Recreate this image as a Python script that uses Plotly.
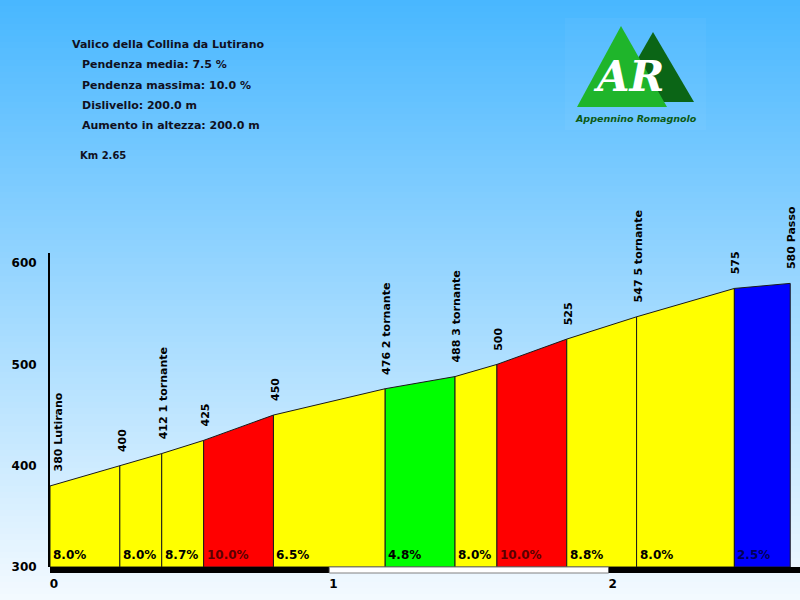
import plotly.graph_objects as go

# ---- data ----
km = [0.0, 0.25, 0.40, 0.55, 0.80, 1.20, 1.45, 1.60, 1.85, 2.10, 2.45, 2.65]
elev = [380, 400, 412, 425, 450, 476, 488, 500, 525, 547, 575, 580]
point_names = ["Lutirano", "", "1 tornante", "", "", "2 tornante", "3 tornante", "", "", "5 tornante", "", "Passo"]
grades = [8.0, 8.0, 8.7, 10.0, 6.5, 4.8, 8.0, 10.0, 8.8, 8.0, 2.5]
y_ticks = [300, 400, 500, 600]
x_ticks = [0, 1, 2]
header_lines = ["Pendenza media: 7.5 %", "Pendenza massima: 10.0 %",
                "Dislivello: 200.0 m", "Aumento in altezza: 200.0 m"]
title_text = "Valico della Collina da Lutirano"
length_text = "Km 2.65"

W, H = 800, 600
ML, MR, MT, MB = 50, 0, 253, 33
PW, PH = W - ML - MR, H - MT - MB
X_MAX = 2.685
Y_MIN, Y_MAX = 300, 610
FONT = "DejaVu Sans"


def px(xp):
    return (xp - ML) / PW


def py(yp):
    return (H - MB - yp) / PH


def seg_color(g):
    if g < 3:
        return "#0000FF"
    if g < 5:
        return "#00FF00"
    if g < 9.5:
        return "#FFFF00"
    return "#FF0000"


def text_color(g):
    c = seg_color(g)
    return {"#FF0000": "#5a0000", "#0000FF": "#00005a"}.get(c, "#000000")


fig = go.Figure()

# profile segments
for i, g in enumerate(grades):
    x0, x1 = km[i], km[i + 1]
    fig.add_trace(go.Scatter(
        x=[x0, x0, x1, x1, x0], y=[Y_MIN, elev[i], elev[i + 1], Y_MIN, Y_MIN],
        mode="lines", fill="toself", fillcolor=seg_color(g),
        line=dict(color="#1a1a1a", width=1), hoverinfo="skip", showlegend=False))

shapes = []
# sky gradient background
top = (72, 183, 255)
bot = (244, 250, 255)
nb = 100
for b in range(nb):
    t = (b + 0.5) / nb
    col = "rgb(%d,%d,%d)" % tuple(round(top[k] + (bot[k] - top[k]) * t) for k in range(3))
    y0p = b * H / nb
    y1p = (b + 1) * H / nb + 0.6
    shapes.append(dict(type="rect", xref="paper", yref="paper", layer="below",
                       x0=px(0), x1=px(W), y0=py(y1p), y1=py(y0p),
                       fillcolor=col, line=dict(width=0)))

# km bar below the profile
bar_y0, bar_y1 = py(573), py(567)
for k0 in range(3):
    k1 = k0 + 1
    if k0 % 2 == 0:
        shapes.append(dict(type="rect", xref="x", yref="paper", x0=k0, x1=min(k1, X_MAX),
                           y0=bar_y0, y1=bar_y1, fillcolor="#000000", line=dict(width=0)))
    else:
        shapes.append(dict(type="rect", xref="x", yref="paper", x0=k0, x1=k1,
                           y0=bar_y0, y1=bar_y1, fillcolor="#FFFFFF",
                           line=dict(color="#808080", width=1)))

# logo
shapes.append(dict(type="rect", xref="paper", yref="paper", layer="below",
                   x0=px(565), x1=px(706), y0=py(130), y1=py(18),
                   fillcolor="rgba(255,255,255,0.035)", line=dict(width=0)))


def tri(a, b, c, col):
    path = "M %f,%f L %f,%f L %f,%f Z" % (px(a[0]), py(a[1]), px(b[0]), py(b[1]), px(c[0]), py(c[1]))
    return dict(type="path", xref="paper", yref="paper", path=path,
                fillcolor=col, line=dict(width=0))


shapes.append(tri((653, 32), (613, 102), (694, 102), "#0b6516"))
shapes.append(tri((621, 26), (577, 107), (667, 107), "#1fb52b"))

annotations = []
# header text
annotations.append(dict(xref="paper", yref="paper", x=px(70), y=py(45), xanchor="left", yanchor="middle",
                        text=title_text, showarrow=False,
                        font=dict(family=FONT, size=11, color="#10101e", weight="bold")))
for j, line in enumerate(header_lines):
    annotations.append(dict(xref="paper", yref="paper", x=px(80), y=py(65 + 20.2 * j),
                            xanchor="left", yanchor="middle", text=line, showarrow=False,
                            font=dict(family=FONT, size=11, color="#10101e", weight="bold")))
annotations.append(dict(xref="paper", yref="paper", x=px(78), y=py(155.5), xanchor="left", yanchor="middle",
                        text=length_text, showarrow=False,
                        font=dict(family=FONT, size=10, color="#10101e", weight="bold")))

# logo texts
annotations.append(dict(xref="paper", yref="paper", x=px(629), y=py(76), xanchor="center", yanchor="middle",
                        text="AR", showarrow=False,
                        font=dict(family="DejaVu Serif", size=42, color="#FFFFFF",
                                  weight="bold", style="italic")))
annotations.append(dict(xref="paper", yref="paper", x=px(636), y=py(118), xanchor="center", yanchor="middle",
                        text="Appennino Romagnolo", showarrow=False,
                        font=dict(family=FONT, size=9.5, color="#0b5a14",
                                  weight="bold", style="italic")))

# elevation / point labels
for i, (k, e, n) in enumerate(zip(km, elev, point_names)):
    label = f"{e} {n}" if n else f"{e}"
    annotations.append(dict(x=k, y=e, xref="x", yref="y", text=label, showarrow=False,
                            textangle=-90, xanchor="center", yanchor="bottom",
                            xshift=8 if i == 0 else 2, yshift=12,
                            font=dict(family=FONT, size=11, color="#000000", weight="bold")))

# gradient labels
for i, g in enumerate(grades):
    annotations.append(dict(x=km[i], y=Y_MIN, xref="x", yref="y", text=f"{g:.1f}%", showarrow=False,
                            xanchor="left", yanchor="bottom", xshift=1, yshift=3,
                            font=dict(family=FONT, size=12, color=text_color(g), weight="bold")))

fig.update_layout(
    width=W, height=H,
    margin=dict(l=ML, r=MR, t=MT, b=MB),
    paper_bgcolor="#F4FAFF",
    plot_bgcolor="rgba(0,0,0,0)",
    showlegend=False,
    shapes=shapes,
    annotations=annotations,
    xaxis=dict(range=[0, X_MAX], tickvals=x_ticks, ticktext=[str(v) for v in x_ticks],
               showgrid=False, zeroline=False, showline=False,
               ticks="outside", ticklen=6, tickcolor="rgba(0,0,0,0)", ticklabelshift=4,
               tickfont=dict(family=FONT, size=12, color="#000000", weight="bold"),
               fixedrange=True),
    yaxis=dict(range=[Y_MIN, Y_MAX], tickvals=y_ticks, ticktext=[str(v) for v in y_ticks],
               showgrid=False, zeroline=False, showline=True, linecolor="#000000", linewidth=2,
               ticks="outside", ticklen=9, tickcolor="rgba(0,0,0,0)",
               tickfont=dict(family=FONT, size=12, color="#000000", weight="bold"),
               fixedrange=True),
)

fig.write_html("out.html", config={"displayModeBar": False},
               post_script="document.body.style.margin='0px';document.body.style.overflow='hidden';")
